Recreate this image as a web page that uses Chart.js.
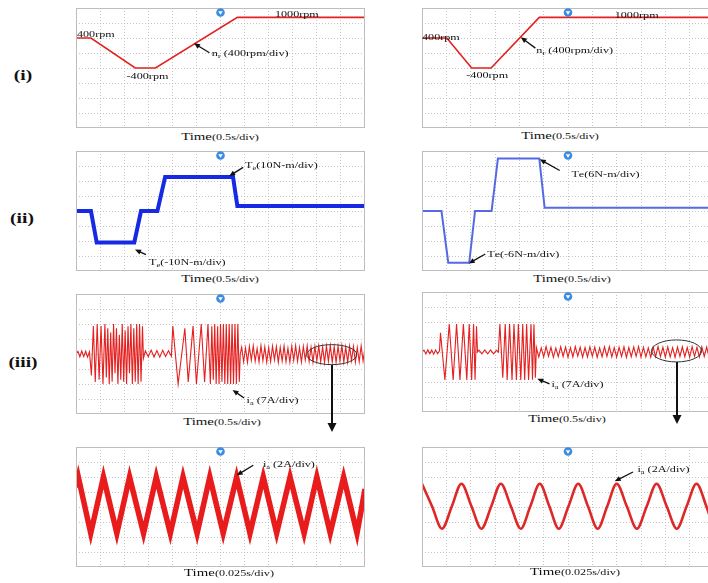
<!DOCTYPE html>
<html>
<head>
<meta charset="utf-8">
<script src="https://cdn.jsdelivr.net/npm/chart.js@4.4.1/dist/chart.umd.min.js"></script>
<style>
  html, body { margin: 0; padding: 0; background: #fff; width: 708px; height: 583px; overflow: hidden; position: relative; }
  canvas { position: absolute; }
  .lbl { position: absolute; font-family: "Liberation Serif", "DejaVu Serif", serif; color: #111; white-space: nowrap; transform: translate(-50%, -50%) scaleX(1.35); }
  .row { font-weight: bold; font-size: 15px; transform: translate(-50%, -50%) scaleX(1.3); }
  .time { font-size: 11px; }
  .time small { font-size: 9px; }
  #links { position: absolute; left: 0; top: 0; }
</style>
</head>
<body>
<canvas id="speedL" width="289" height="120" style="left:76px;top:8px"></canvas>
<canvas id="speedR" width="292" height="120" style="left:422px;top:8px"></canvas>
<canvas id="torqueL" width="289" height="120" style="left:76px;top:151px"></canvas>
<canvas id="torqueR" width="292" height="120" style="left:422px;top:151px"></canvas>
<canvas id="currentL" width="289" height="120" style="left:76px;top:294px"></canvas>
<canvas id="currentR" width="292" height="120" style="left:422px;top:292px"></canvas>
<canvas id="zoomL" width="289" height="120" style="left:76px;top:447px"></canvas>
<canvas id="zoomR" width="292" height="120" style="left:422px;top:447px"></canvas>

<div class="lbl row" style="left:23px;top:75px">(i)</div>
<div class="lbl row" style="left:22px;top:218px">(ii)</div>
<div class="lbl row" style="left:23px;top:362px">(iii)</div>

<div class="lbl time" style="left:220px;top:136px">Time<small>(0.5s/div)</small></div>
<div class="lbl time" style="left:560px;top:135px">Time<small>(0.5s/div)</small></div>
<div class="lbl time" style="left:220px;top:278px">Time<small>(0.5s/div)</small></div>
<div class="lbl time" style="left:572px;top:278px">Time<small>(0.5s/div)</small></div>
<div class="lbl time" style="left:222px;top:421px">Time<small>(0.5s/div)</small></div>
<div class="lbl time" style="left:567px;top:418px">Time<small>(0.5s/div)</small></div>
<div class="lbl time" style="left:229px;top:572px">Time<small>(0.025s/div)</small></div>
<div class="lbl time" style="left:575px;top:571px">Time<small>(0.025s/div)</small></div>

<svg id="links" width="708" height="583">
  <line x1="332" y1="365" x2="332" y2="424" stroke="#111" stroke-width="2"/>
  <polygon points="327.5,423 336.5,423 332,432" fill="#111"/>
  <line x1="677" y1="362" x2="677" y2="416" stroke="#111" stroke-width="2"/>
  <polygon points="672.5,415 681.5,415 677,424" fill="#111"/>
</svg>

<script>
// (i) rotor speed, rpm vs s
const speedLeftT = [0, 0.31, 1.23, 1.65, 3.35, 6];
const speedLeftRpm = [400, 400, -400, -400, 950, 950];
const speedRightT = [0, 0.51, 1.02, 1.42, 2.41, 6];
const speedRightRpm = [400, 400, -400, -400, 950, 950];

// (ii) electromagnetic torque, N-m vs s
const torqueLeftT = [0, 0.31, 0.43, 1.21, 1.35, 1.69, 1.85, 3.26, 3.35, 6];
const torqueLeftNm = [0, 0, -21, -21, 0, 0, 22.7, 22.7, 3.3, 3.3];
const torqueRightT = [0, 0.40, 0.54, 0.97, 1.09, 1.43, 1.56, 2.41, 2.52, 6];
const torqueRightNm = [0, 0, -20.7, -20.7, 0, 0, 21, 21, 1.3, 1.3];

// (iii) phase current, A vs s (peaks and troughs)
const currentLeftT = [
  0, 0.04, 0.08, 0.12, 0.16, 0.20, 0.24, 0.28,
  0.32, 0.36, 0.40, 0.44, 0.48, 0.52, 0.56, 0.60, 0.63, 0.66, 0.69, 0.72, 0.75, 0.78, 0.81, 0.84,
  0.87, 0.90, 0.93, 0.96, 0.99, 1.02, 1.05, 1.08, 1.11, 1.14, 1.17, 1.20, 1.23, 1.26, 1.29, 1.32,
  1.35, 1.38, 1.40,
  1.44, 1.50, 1.56, 1.62, 1.68, 1.74, 1.80, 1.86, 1.92, 1.98,
  2.01, 2.12, 2.26, 2.33, 2.43, 2.50, 2.60, 2.67, 2.74, 2.79, 2.82, 2.85, 2.88, 2.91, 2.94, 2.97,
  3.00, 3.03, 3.06, 3.09, 3.12, 3.15, 3.18, 3.21, 3.24, 3.27, 3.30, 3.33, 3.36, 3.39, 3.41,
  3.44, 3.48, 3.52, 3.56, 3.60, 3.64, 3.68, 3.72, 3.76, 3.80, 3.84, 3.88, 3.92, 3.96, 4.00,
  4.04, 4.08, 4.12, 4.16, 4.20, 4.24, 4.28, 4.32, 4.36, 4.40, 4.44, 4.48, 4.52, 4.56, 4.60,
  4.64, 4.68, 4.72, 4.76, 4.80, 4.84, 4.88, 4.92, 4.96, 5.00,
  5.04, 5.08, 5.12, 5.16, 5.20, 5.24, 5.28, 5.32, 5.36, 5.40, 5.44, 5.48, 5.52, 5.56, 5.60,
  5.64, 5.68, 5.72, 5.76, 5.80, 5.84, 5.88, 5.92, 5.96, 6.00
];
const currentLeftA = [
  0, 1.2, -1.3, 1.4, -1.2, 1.3, -1.4, 1.0,
  -10, 13, -13, 14, -12, 13, -14, 14, -11, 12, -14, 10, -13, 14, -9, 12,
  -14, 9, -12, 14, -13, 11, -14, 13, -9, 14, -14, 12, -13, 14, -14, 14,
  -13, 13, -2,
  1.5, -1.3, 1.8, -1.4, 1.6, -1.5, 1.7, -1.2, 1.5, -1.0,
  13, -14, 12, -13, 13, -14, 14, -13, 14, -14, 13, -12, 14, -14, 13, -14,
  14, -13, 14, -14, 14, -14, 14, -14, 14, -14, 14, -14, 14, -13, 0,
  3.2, -3.6, 2.8, -3.9, 3.5, -2.9, 3.8, -3.4, 2.6, -3.7, 3.9, -3.1, 3.3, -3.8, 2.9,
  -3.5, 3.7, -2.7, 3.4, -3.9, 3.1, -3.3, 3.8, -3.6, 2.7, -3.8, 3.6, -3.0, 3.9, -3.4,
  3.0, -3.7, 3.5, -2.8, 3.8, -3.5, 3.2, -3.9, 3.6, -3.2,
  3.9, -3.6, 3.3, -3.9, 3.7, -3.4, 3.9, -3.8, 3.4, -3.9, 3.6, -3.3, 3.9, -3.7, 3.2,
  -3.8, 3.7, -3.1, 3.5, -3.8, 3.0, -3.6, 3.8, -3.2, 3.0
];
const currentRightT = [
  0, 0.04, 0.08, 0.12, 0.16, 0.20, 0.24, 0.28, 0.32, 0.36,
  0.38, 0.47, 0.56, 0.64, 0.71, 0.78, 0.85, 0.92, 0.97, 1.02, 1.06, 1.09, 1.12, 1.14,
  1.17, 1.23, 1.29, 1.35, 1.41, 1.47, 1.53, 1.57,
  1.60, 1.66, 1.71, 1.75, 1.80, 1.85, 1.89, 1.94, 1.98, 2.03, 2.07, 2.11, 2.15, 2.19, 2.24, 2.27, 2.30, 2.33,
  2.35, 2.40, 2.45, 2.50, 2.55, 2.60, 2.65, 2.70, 2.75, 2.80, 2.85, 2.90, 2.95, 3.00,
  3.05, 3.10, 3.15, 3.20, 3.25, 3.30, 3.35, 3.40, 3.45, 3.50, 3.55, 3.60, 3.65, 3.70, 3.75, 3.80, 3.85, 3.90, 3.95, 4.00,
  4.05, 4.10, 4.15, 4.20, 4.25, 4.30, 4.35, 4.40, 4.45, 4.50, 4.55, 4.60, 4.65, 4.70, 4.75, 4.80, 4.85, 4.90, 4.95, 5.00,
  5.05, 5.10, 5.15, 5.20, 5.25, 5.30, 5.35, 5.40, 5.45, 5.50, 5.55, 5.60, 5.65, 5.70, 5.75, 5.80, 5.85, 5.90, 5.95, 6.00
];
const currentRightA = [
  0, 0.9, -0.9, 1.0, -0.8, 0.9, -1.0, 0.9, -0.8, 0.6,
  9, -13, 13, -13, 13, -13, 13, -13, 13, -13, 13, -13, 12, 0,
  0.9, -0.9, 1.0, -0.9, 1.0, -0.9, 0.8, 0,
  13, -12, 13, -13, 13, -13, 13, -13, 13, -13, 13, -13, 13, -13, 13, -13, 13, -12,
  2.1, -2.4, 1.9, -2.3, 2.5, -2.0, 2.2, -2.5, 1.8, -2.2, 2.4, -2.1, 2.3, -2.4,
  2.0, -2.3, 2.5, -1.9, 2.2, -2.4, 2.1, -2.3, 2.4, -2.0, 2.3, -2.5, 1.9, -2.2, 2.4, -2.1, 2.5, -2.3, 2.0, -2.4,
  2.2, -2.1, 2.4, -2.5, 2.1, -2.2, 2.3, -2.0, 2.5, -2.4, 2.2, -2.3, 1.9, -2.4, 2.3, -2.2, 2.5, -2.1, 2.2, -2.4,
  2.4, -2.3, 2.0, -2.5, 2.3, -2.1, 2.4, -2.2, 2.1, -2.4, 2.5, -2.0, 2.2, -2.3, 2.4, -2.1, 2.3, -2.4, 2.0, -2.2
];

// zoomed steady-state current, A vs s
const zoomLeftT = [0, 0.0024, 0.0153, 0.0285, 0.0424, 0.0556, 0.0701, 0.0833, 0.0979, 0.1111, 0.1257, 0.1389,
  0.1528, 0.1667, 0.1806, 0.1944, 0.2083, 0.2222, 0.2368, 0.25, 0.2639, 0.2778, 0.2917, 0.3];
const zoomLeftA = [2.6, 4.0, -3.5, 4.0, -3.5, 4.0, -3.5, 4.0, -3.5, 4.0, -3.5, 4.0,
  -3.5, 4.0, -3.5, 4.0, -3.5, 4.0, -3.5, 4.0, -3.5, 4.0, -3.5, 2.4];
const zoomRightT = [0, 0.0103, 0.0205, 0.0307, 0.0405, 0.0508, 0.061, 0.0712, 0.081, 0.0913, 0.1015, 0.1113,
  0.121, 0.1308, 0.1405, 0.1505, 0.1605, 0.1705, 0.1805, 0.1903, 0.2, 0.2104, 0.2208, 0.2309,
  0.241, 0.2514, 0.2618, 0.2719, 0.282, 0.2921, 0.3];
const zoomRightA = [3.1, 0.1, -2.9, 0.1, 3.1, 0.1, -2.9, 0.1, 3.1, 0.1, -2.9, 0.1,
  3.1, 0.1, -2.9, 0.1, 3.1, 0.1, -2.9, 0.1, 3.1, 0.1, -2.9, 0.1,
  3.1, 0.1, -2.9, 0.1, 3.1, 0.1, -2.9];

const gridColor = 'rgba(190,190,190,0.9)';
const textFont = '"Liberation Serif", "DejaVu Serif", serif';

// text with '_x' meaning subscript x, stretched like the scope print
function drawLabel(ctx, str, px, py, size) {
  ctx.save();
  ctx.translate(px, py);
  ctx.scale(1.35, 1);
  ctx.textBaseline = 'middle';
  ctx.fillStyle = '#111';
  let cx = 0;
  for (let i = 0; i < str.length; i++) {
    let ch = str[i], sub = false;
    if (ch === '_') { sub = true; ch = str[++i]; }
    ctx.font = (sub ? size * 0.7 : size) + 'px ' + textFont;
    ctx.fillText(ch, cx, sub ? size * 0.3 : 0);
    cx += ctx.measureText(ch).width;
  }
  ctx.restore();
}

function drawArrow(ctx, x1, y1, x2, y2) {
  const a = Math.atan2(y2 - y1, x2 - x1), L = 6, w = 2.6;
  const c = Math.cos(a), s = Math.sin(a);
  ctx.beginPath();
  ctx.moveTo(x1, y1);
  ctx.lineTo(x2 - L * 0.7 * c, y2 - L * 0.7 * s);
  ctx.stroke();
  ctx.beginPath();
  ctx.moveTo(x2, y2);
  ctx.lineTo(x2 - L * c + w * s, y2 - L * s - w * c);
  ctx.lineTo(x2 - L * c - w * s, y2 - L * s + w * c);
  ctx.closePath();
  ctx.fill();
}

const scopeDeco = {
  id: 'scopeDeco',
  afterDatasetsDraw(chart, args, opts) {
    const { ctx, chartArea: a, scales: { x, y } } = chart;
    ctx.save();
    ctx.strokeStyle = '#bdbdbd';
    ctx.lineWidth = 1;
    ctx.strokeRect(a.left + 0.5, a.top + 0.5, a.width - 1, a.height - 1);

    // trigger marker at the middle of the time base
    const mx = x.getPixelForValue((x.min + x.max) / 2), my = a.top + 4.5;
    ctx.fillStyle = '#3b8de0';
    ctx.beginPath(); ctx.arc(mx, my, 4.3, 0, Math.PI * 2); ctx.fill();
    ctx.fillStyle = '#fff';
    ctx.beginPath(); ctx.moveTo(mx - 2.3, my - 1.3); ctx.lineTo(mx + 2.3, my - 1.3); ctx.lineTo(mx, my + 2.2); ctx.closePath(); ctx.fill();

    if (opts.ellipse) {
      const e = opts.ellipse;
      ctx.strokeStyle = '#333';
      ctx.lineWidth = 1;
      ctx.beginPath();
      ctx.ellipse(x.getPixelForValue(e.x), y.getPixelForValue(e.y), e.rx, e.ry, 0, 0, Math.PI * 2);
      ctx.stroke();
    }

    ctx.strokeStyle = '#111';
    ctx.fillStyle = '#111';
    ctx.lineWidth = 1.3;
    (opts.notes || []).forEach(n => {
      if (n.from) {
        drawArrow(ctx, x.getPixelForValue(n.from[0]), y.getPixelForValue(n.from[1]),
          x.getPixelForValue(n.to[0]), y.getPixelForValue(n.to[1]));
      }
      drawLabel(ctx, n.text, x.getPixelForValue(n.x), y.getPixelForValue(n.y), 9);
    });
    ctx.restore();
  }
};

function axis(min, max, step) {
  return {
    type: 'linear', min: min, max: max,
    ticks: { display: false, stepSize: step, maxTicksLimit: 100, autoSkip: false },
    grid: { color: gridColor, drawTicks: false, lineWidth: 1 },
    border: { display: false, dash: [1, 2] }
  };
}

function makeScope(id, cfg) {
  return new Chart(document.getElementById(id), {
    type: 'line',
    data: {
      datasets: [{
        data: cfg.t.map((t, i) => ({ x: t, y: cfg.v[i] })),
        borderColor: cfg.color,
        borderWidth: cfg.width,
        pointRadius: 0,
        fill: false,
        cubicInterpolationMode: cfg.smooth ? 'monotone' : 'default',
        tension: 0
      }]
    },
    options: {
      responsive: false,
      animation: false,
      events: [],
      layout: { padding: 0 },
      plugins: { legend: { display: false }, tooltip: { enabled: false }, scopeDeco: cfg.deco },
      scales: {
        x: axis(0, cfg.xMax, cfg.xMax / 12),
        y: axis(cfg.yMin, cfg.yMax, (cfg.yMax - cfg.yMin) / 8)
      }
    },
    plugins: [scopeDeco]
  });
}

const red = 'rgb(228,32,32)';

makeScope('speedL', {
  t: speedLeftT, v: speedLeftRpm, xMax: 6, yMin: -2000, yMax: 1200, color: red, width: 1.6,
  deco: { notes: [
    { x: 0.02, y: 500, text: '400rpm' },
    { x: 1.05, y: -621, text: '-400rpm' },
    { x: 4.13, y: 1013, text: '1000rpm' },
    { x: 2.82, y: -19, text: 'n_r (400rpm/div)', from: [2.77, 8], to: [2.45, 259] }
  ] }
});
makeScope('speedR', {
  t: speedRightT, v: speedRightRpm, xMax: 6, yMin: -2000, yMax: 1200, color: red, width: 1.6,
  deco: { notes: [
    { x: 0.0, y: 418, text: '400rpm' },
    { x: 0.91, y: -613, text: '-400rpm' },
    { x: 3.96, y: 987, text: '1000rpm' },
    { x: 2.35, y: 61, text: 'n_r (400rpm/div)', from: [2.33, 130], to: [2.03, 418] }
  ] }
});
makeScope('torqueL', {
  t: torqueLeftT, v: torqueLeftNm, xMax: 6, yMin: -40, yMax: 40, color: 'rgb(22,42,228)', width: 4,
  deco: { notes: [
    { x: 3.51, y: 30, text: 'T_e(10N-m/div)', from: [3.47, 29.1], to: [3.18, 23.3] },
    { x: 1.515, y: -34.4, text: 'T_e(-10N-m/div)', from: [1.453, -29.1], to: [1.225, -25.7] }
  ] }
});
makeScope('torqueR', {
  t: torqueRightT, v: torqueRightNm, xMax: 6, yMin: -24, yMax: 24, color: 'rgb(85,105,228)', width: 2,
  deco: { notes: [
    { x: 3.07, y: 14.6, text: 'Te(6N-m/div)', from: [2.83, 16.2], to: [2.42, 20.7] },
    { x: 1.34, y: -17.4, text: 'Te(-6N-m/div)', from: [1.30, -17.2], to: [0.96, -21.0] }
  ] }
});
makeScope('currentL', {
  t: currentLeftT, v: currentLeftA, xMax: 6, yMin: -28, yMax: 28, color: red, width: 1.1,
  deco: {
    ellipse: { x: 5.31, y: -0.3, rx: 25, ry: 10 },
    notes: [{ x: 3.54, y: -21.8, text: 'i_a (7A/div)', from: [3.49, -20.5], to: [3.25, -16.8] }]
  }
});
makeScope('currentR', {
  t: currentRightT, v: currentRightA, xMax: 6, yMin: -28, yMax: 28, color: red, width: 1.1,
  deco: {
    ellipse: { x: 5.23, y: 0.5, rx: 25, ry: 11 },
    notes: [{ x: 2.66, y: -15.3, text: 'i_a (7A/div)', from: [2.62, -14.9], to: [2.37, -12.5] }]
  }
});
makeScope('zoomL', {
  t: zoomLeftT, v: zoomLeftA, xMax: 0.3, yMin: -8, yMax: 8, color: 'rgb(232,28,28)', width: 5.5,
  deco: { notes: [{ x: 0.194, y: 5.65, text: 'i_a (2A/div)', from: [0.184, 5.56], to: [0.1668, 4.23] }] }
});
makeScope('zoomR', {
  t: zoomRightT, v: zoomRightA, xMax: 0.3, yMin: -8, yMax: 8, color: 'rgb(222,40,40)', width: 2.6, smooth: true,
  deco: { notes: [{ x: 0.2213, y: 5.03, text: 'i_a (2A/div)', from: [0.2168, 4.67], to: [0.198, 3.43] }] }
});
</script>
</body>
</html>
